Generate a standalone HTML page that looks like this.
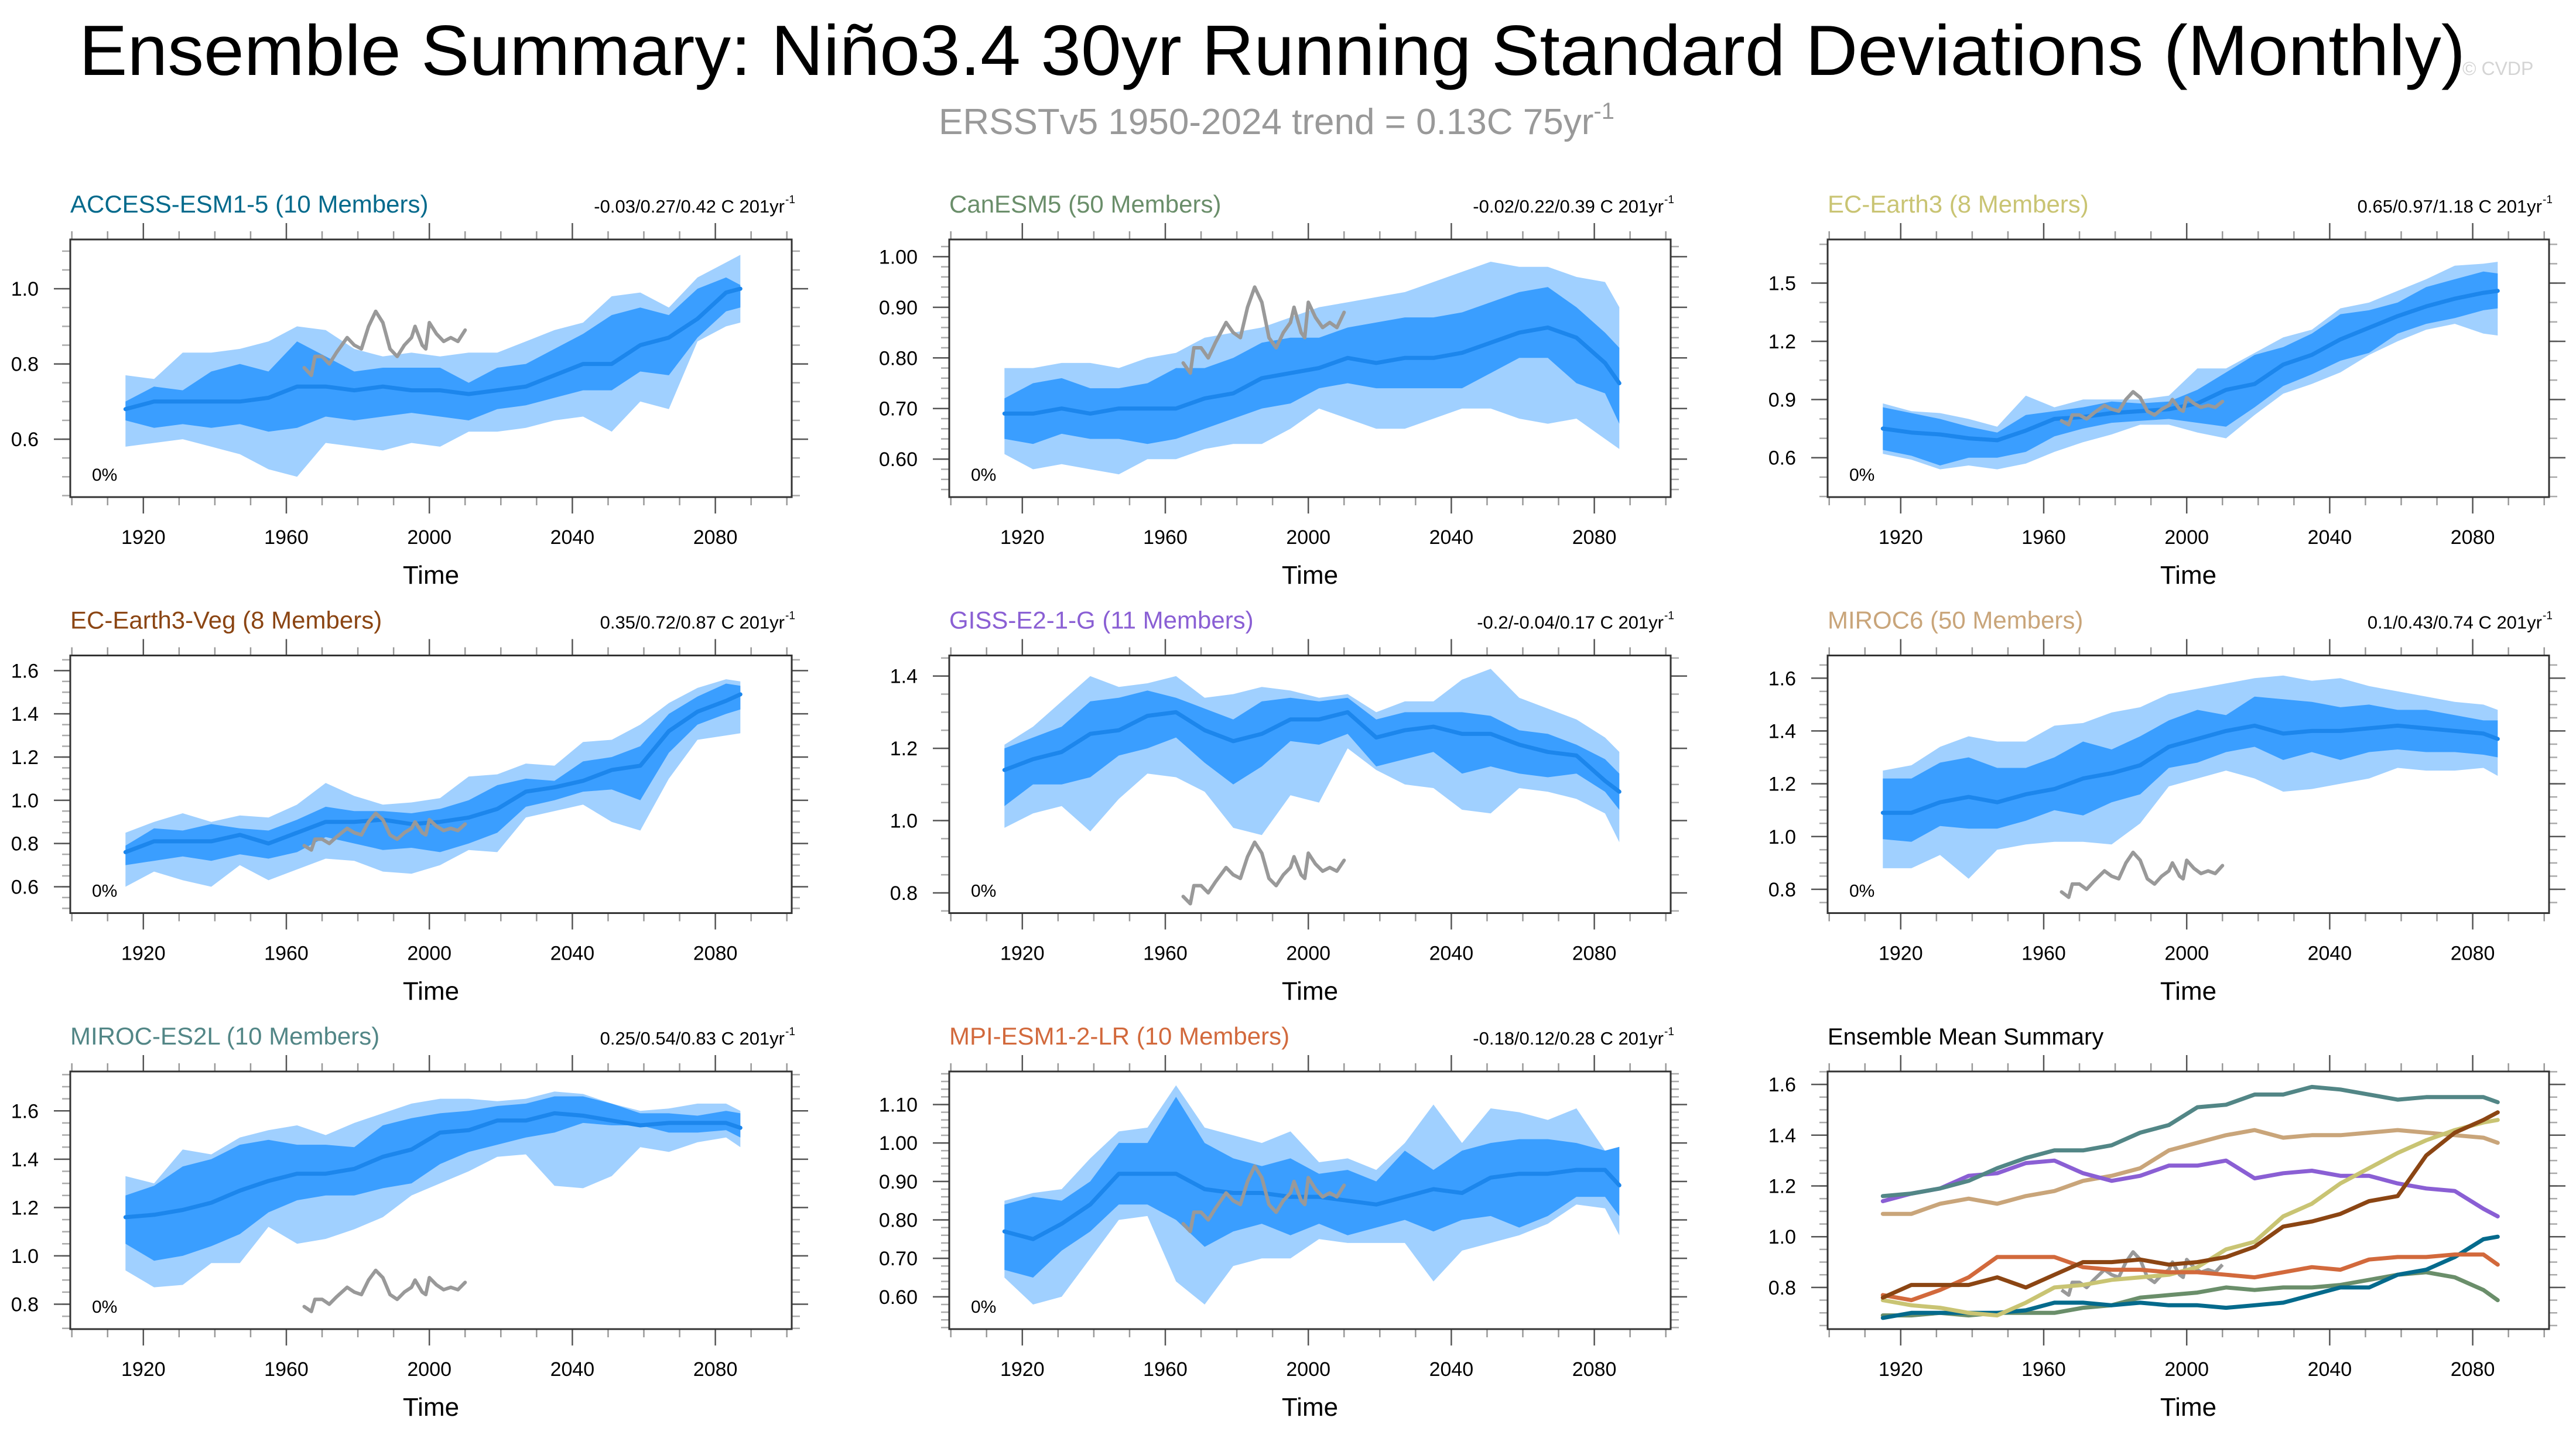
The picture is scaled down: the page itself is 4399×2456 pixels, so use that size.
<!DOCTYPE html>
<html><head><meta charset="utf-8"><title>Ensemble Summary</title>
<style>html,body{margin:0;padding:0;background:#fff;}svg{display:block;font-family:"Liberation Sans",Arial,sans-serif;}</style>
</head><body>
<svg id="chart" xmlns="http://www.w3.org/2000/svg" width="4399" height="2456" viewBox="0 0 4399 2456">
<rect x="0" y="0" width="4399" height="2456" fill="#fff"/>
<text x="135" y="128" font-size="122" textLength="4075" lengthAdjust="spacingAndGlyphs" fill="#000">Ensemble Summary: Niño3.4 30yr Running Standard Deviations (Monthly)</text>
<text x="1603" y="229" font-size="62" fill="#999">ERSSTv5 1950-2024 trend = 0.13C 75yr<tspan font-size="40" dy="-26">-1</tspan></text>
<text x="4205" y="128" font-size="32" fill="#d4d4d4">© CVDP</text>
<g id="panels"></g>
</svg>
<script>
const years = [1915,1923,1931,1939,1947,1955,1963,1971,1979,1987,1995,2003,2011,2019,2027,2035,2043,2051,2059,2067,2075,2083,2087];
const obsYears = [1965,1967,1968,1970,1972,1974,1977,1979,1981,1983,1985,1987,1989,1991,1993,1995,1996,1998,1999,2000,2002,2004,2006,2008,2010];
const obsVals = [0.79,0.77,0.82,0.82,0.80,0.83,0.87,0.85,0.84,0.90,0.94,0.91,0.84,0.82,0.85,0.87,0.90,0.85,0.84,0.91,0.88,0.86,0.87,0.86,0.89];
const xTickLabels = ["1920","1960","2000","2040","2080"];

const accessMean = [0.68,0.70,0.70,0.70,0.70,0.71,0.74,0.74,0.73,0.74,0.73,0.73,0.72,0.73,0.74,0.77,0.80,0.80,0.85,0.87,0.92,0.99,1.00];
const accessDHi = [0.70,0.74,0.73,0.78,0.80,0.78,0.86,0.82,0.78,0.79,0.79,0.79,0.75,0.79,0.80,0.84,0.88,0.93,0.95,0.93,1.00,1.03,1.01];
const accessDLo = [0.65,0.63,0.64,0.63,0.64,0.62,0.63,0.66,0.65,0.66,0.67,0.66,0.65,0.68,0.69,0.71,0.73,0.73,0.78,0.77,0.87,0.94,0.95];
const accessLHi = [0.77,0.76,0.83,0.83,0.84,0.86,0.90,0.89,0.84,0.82,0.83,0.82,0.83,0.83,0.86,0.89,0.91,0.98,0.99,0.95,1.03,1.07,1.09];
const accessLLo = [0.58,0.59,0.60,0.58,0.56,0.52,0.50,0.59,0.58,0.57,0.59,0.58,0.62,0.62,0.63,0.65,0.66,0.62,0.70,0.68,0.86,0.90,0.91];

const canMean = [0.69,0.69,0.70,0.69,0.70,0.70,0.70,0.72,0.73,0.76,0.77,0.78,0.80,0.79,0.80,0.80,0.81,0.83,0.85,0.86,0.84,0.79,0.75];
const canDHi = [0.72,0.75,0.76,0.74,0.74,0.75,0.78,0.78,0.80,0.83,0.84,0.84,0.86,0.87,0.88,0.88,0.89,0.91,0.93,0.94,0.90,0.85,0.82];
const canDLo = [0.64,0.63,0.65,0.64,0.64,0.63,0.64,0.66,0.68,0.70,0.71,0.74,0.75,0.74,0.74,0.74,0.74,0.77,0.80,0.80,0.75,0.73,0.67];
const canLHi = [0.78,0.78,0.79,0.79,0.78,0.80,0.81,0.84,0.85,0.86,0.88,0.90,0.91,0.92,0.93,0.95,0.97,0.99,0.98,0.98,0.96,0.95,0.90];
const canLLo = [0.61,0.58,0.59,0.58,0.57,0.60,0.60,0.62,0.63,0.63,0.66,0.70,0.68,0.66,0.66,0.68,0.70,0.70,0.68,0.67,0.68,0.64,0.62];

const ecMean = [0.75,0.73,0.72,0.70,0.69,0.74,0.80,0.81,0.83,0.84,0.85,0.88,0.95,0.98,1.08,1.13,1.21,1.27,1.33,1.38,1.42,1.45,1.46];
const ecDHi = [0.86,0.83,0.80,0.76,0.73,0.82,0.84,0.86,0.89,0.88,0.89,0.95,1.04,1.13,1.17,1.24,1.34,1.36,1.40,1.48,1.52,1.56,1.55];
const ecDLo = [0.64,0.61,0.56,0.60,0.60,0.63,0.71,0.75,0.78,0.79,0.80,0.78,0.76,0.86,0.97,1.03,1.10,1.14,1.24,1.29,1.32,1.36,1.37];
const ecLHi = [0.88,0.84,0.83,0.80,0.76,0.92,0.86,0.90,0.90,0.90,0.92,1.06,1.06,1.14,1.22,1.26,1.37,1.40,1.46,1.52,1.59,1.60,1.61];
const ecLLo = [0.62,0.59,0.54,0.56,0.54,0.57,0.63,0.68,0.72,0.77,0.77,0.73,0.70,0.82,0.93,0.98,1.04,1.13,1.20,1.26,1.29,1.24,1.23];

const vegMean = [0.76,0.81,0.81,0.81,0.84,0.80,0.85,0.90,0.90,0.91,0.89,0.90,0.92,0.96,1.04,1.06,1.09,1.14,1.16,1.32,1.41,1.46,1.49];
const vegDHi = [0.79,0.87,0.86,0.89,0.87,0.86,0.91,0.97,0.95,0.95,0.94,0.96,1.00,1.07,1.10,1.09,1.18,1.20,1.25,1.40,1.48,1.54,1.53];
const vegDLo = [0.70,0.72,0.74,0.72,0.75,0.73,0.76,0.83,0.80,0.77,0.78,0.76,0.80,0.85,0.97,1.00,1.04,1.05,1.00,1.22,1.35,1.40,1.42];
const vegLHi = [0.85,0.90,0.94,0.90,0.93,0.92,0.98,1.08,1.02,0.98,0.99,1.01,1.11,1.12,1.17,1.16,1.27,1.28,1.35,1.45,1.52,1.56,1.55];
const vegLLo = [0.60,0.67,0.63,0.60,0.70,0.63,0.68,0.73,0.72,0.67,0.66,0.70,0.77,0.76,0.92,0.95,0.98,0.90,0.86,1.10,1.28,1.30,1.31];

const gissMean = [1.14,1.17,1.19,1.24,1.25,1.29,1.30,1.25,1.22,1.24,1.28,1.28,1.30,1.23,1.25,1.26,1.24,1.24,1.21,1.19,1.18,1.11,1.08];
const gissDHi = [1.20,1.23,1.26,1.33,1.34,1.36,1.34,1.31,1.28,1.33,1.34,1.33,1.34,1.28,1.30,1.30,1.30,1.29,1.25,1.24,1.21,1.17,1.13];
const gissDLo = [1.04,1.10,1.10,1.12,1.18,1.20,1.23,1.16,1.10,1.15,1.22,1.21,1.24,1.15,1.17,1.19,1.13,1.15,1.13,1.12,1.13,1.08,1.03];
const gissLHi = [1.21,1.26,1.33,1.40,1.37,1.38,1.40,1.34,1.35,1.37,1.36,1.34,1.35,1.30,1.33,1.33,1.39,1.42,1.34,1.31,1.28,1.23,1.19];
const gissLLo = [0.98,1.02,1.04,0.97,1.06,1.13,1.12,1.08,0.98,0.96,1.07,1.05,1.20,1.14,1.10,1.09,1.03,1.02,1.09,1.08,1.06,1.02,0.94];

const miroc6Mean = [1.09,1.09,1.13,1.15,1.13,1.16,1.18,1.22,1.24,1.27,1.34,1.37,1.40,1.42,1.39,1.40,1.40,1.41,1.42,1.41,1.40,1.39,1.37];
const miroc6DHi = [1.22,1.22,1.28,1.30,1.26,1.26,1.30,1.36,1.33,1.38,1.44,1.48,1.46,1.53,1.52,1.51,1.49,1.50,1.48,1.48,1.46,1.44,1.44];
const miroc6DLo = [0.99,0.98,1.04,1.03,1.03,1.06,1.10,1.08,1.13,1.16,1.26,1.28,1.32,1.34,1.29,1.32,1.29,1.32,1.33,1.32,1.32,1.31,1.30];
const miroc6LHi = [1.25,1.27,1.34,1.38,1.36,1.36,1.42,1.43,1.47,1.49,1.54,1.56,1.58,1.60,1.61,1.59,1.60,1.57,1.55,1.53,1.51,1.50,1.48];
const miroc6LLo = [0.88,0.88,0.93,0.84,0.95,0.97,0.98,0.98,0.97,1.05,1.19,1.22,1.25,1.22,1.17,1.18,1.20,1.22,1.26,1.25,1.25,1.26,1.23];

const es2lMean = [1.16,1.17,1.19,1.22,1.27,1.31,1.34,1.34,1.36,1.41,1.44,1.51,1.52,1.56,1.56,1.59,1.58,1.56,1.54,1.55,1.55,1.55,1.53];
const es2lDHi = [1.25,1.29,1.37,1.40,1.46,1.48,1.46,1.46,1.45,1.54,1.57,1.59,1.60,1.62,1.63,1.66,1.66,1.63,1.59,1.59,1.58,1.60,1.59];
const es2lDLo = [1.05,0.98,1.00,1.04,1.09,1.18,1.23,1.25,1.25,1.28,1.30,1.38,1.43,1.46,1.49,1.51,1.55,1.54,1.54,1.51,1.51,1.52,1.49];
const es2lLHi = [1.33,1.30,1.44,1.42,1.49,1.52,1.54,1.50,1.55,1.59,1.63,1.65,1.65,1.64,1.65,1.68,1.67,1.63,1.60,1.61,1.63,1.63,1.60];
const es2lLLo = [0.94,0.87,0.88,0.97,0.97,1.12,1.05,1.07,1.11,1.16,1.25,1.30,1.35,1.41,1.42,1.29,1.28,1.33,1.45,1.43,1.47,1.49,1.45];

const mpiMean = [0.77,0.75,0.79,0.84,0.92,0.92,0.92,0.88,0.87,0.87,0.86,0.86,0.85,0.84,0.86,0.88,0.87,0.91,0.92,0.92,0.93,0.93,0.89];
const mpiDHi = [0.84,0.86,0.85,0.90,1.00,1.00,1.12,1.00,0.96,0.94,0.96,0.92,0.93,0.90,0.98,0.93,0.98,1.00,1.01,1.01,1.00,0.98,0.99];
const mpiDLo = [0.67,0.65,0.72,0.77,0.84,0.84,0.80,0.73,0.77,0.79,0.76,0.79,0.76,0.78,0.80,0.77,0.80,0.81,0.78,0.81,0.86,0.86,0.81];
const mpiLHi = [0.85,0.87,0.88,0.96,1.03,1.04,1.15,1.04,1.02,1.00,1.03,0.95,0.96,0.93,1.00,1.10,1.00,1.09,1.08,1.06,1.09,0.98,0.99];
const mpiLLo = [0.65,0.58,0.60,0.70,0.80,0.81,0.64,0.58,0.68,0.70,0.70,0.75,0.74,0.74,0.74,0.64,0.72,0.74,0.76,0.79,0.84,0.83,0.76];

const NS = "http://www.w3.org/2000/svg";
const colX = [120, 1621, 3121];
const rowY = [409, 1119.5, 1830];
const W = 1232, H = 440;
const root = document.getElementById('panels');

function mk(tag, parent, attrs) {
  const e = document.createElementNS(NS, tag);
  for (const k in attrs) e.setAttribute(k, attrs[k]);
  parent.appendChild(e);
  return e;
}

const models = [
  {key:'access', title:'ACCESS-ESM1-5 (10 Members)', color:'#046a8c', stat:'-0.03/0.27/0.42 C 201yr', ymin:0.446, ymax:1.131, major:[0.6,0.8,1.0], minor:0.05, dec:1, mean:accessMean, dhi:accessDHi, dlo:accessDLo, lhi:accessLHi, llo:accessLLo},
  {key:'canesm5', title:'CanESM5 (50 Members)', color:'#6a8e6a', stat:'-0.02/0.22/0.39 C 201yr', ymin:0.525, ymax:1.034, major:[0.6,0.7,0.8,0.9,1.0], minor:0.02, dec:2, mean:canMean, dhi:canDHi, dlo:canDLo, lhi:canLHi, llo:canLLo},
  {key:'ec-earth3', title:'EC-Earth3 (8 Members)', color:'#c9c473', stat:'0.65/0.97/1.18 C 201yr', ymin:0.397, ymax:1.725, major:[0.6,0.9,1.2,1.5], minor:0.1, dec:1, mean:ecMean, dhi:ecDHi, dlo:ecDLo, lhi:ecLHi, llo:ecLLo},
  {key:'ec-earth3-veg', title:'EC-Earth3-Veg (8 Members)', color:'#8b4513', stat:'0.35/0.72/0.87 C 201yr', ymin:0.478, ymax:1.670, major:[0.6,0.8,1.0,1.2,1.4,1.6], minor:0.05, dec:1, mean:vegMean, dhi:vegDHi, dlo:vegDLo, lhi:vegLHi, llo:vegLLo},
  {key:'giss', title:'GISS-E2-1-G (11 Members)', color:'#8a5fd4', stat:'-0.2/-0.04/0.17 C 201yr', ymin:0.744, ymax:1.457, major:[0.8,1.0,1.2,1.4], minor:0.05, dec:1, mean:gissMean, dhi:gissDHi, dlo:gissDLo, lhi:gissLHi, llo:gissLLo},
  {key:'miroc6', title:'MIROC6 (50 Members)', color:'#c9a57a', stat:'0.1/0.43/0.74 C 201yr', ymin:0.710, ymax:1.686, major:[0.8,1.0,1.2,1.4,1.6], minor:0.05, dec:1, mean:miroc6Mean, dhi:miroc6DHi, dlo:miroc6DLo, lhi:miroc6LHi, llo:miroc6LLo},
  {key:'miroc-es2l', title:'MIROC-ES2L (10 Members)', color:'#528686', stat:'0.25/0.54/0.83 C 201yr', ymin:0.697, ymax:1.763, major:[0.8,1.0,1.2,1.4,1.6], minor:0.05, dec:1, mean:es2lMean, dhi:es2lDHi, dlo:es2lDLo, lhi:es2lLHi, llo:es2lLLo},
  {key:'mpi', title:'MPI-ESM1-2-LR (10 Members)', color:'#d2693c', stat:'-0.18/0.12/0.28 C 201yr', ymin:0.516, ymax:1.186, major:[0.6,0.7,0.8,0.9,1.0,1.1], minor:0.02, dec:2, mean:mpiMean, dhi:mpiDHi, dlo:mpiDLo, lhi:mpiLHi, llo:mpiLLo}
];

function drawAxes(g, x0, y0, ymin, ymax, major, minorStep, dec) {
  const xs = yr => x0 + 2.7 + (yr - 1900) * 6.105;
  const ys = v => y0 + (ymax - v) / (ymax - ymin) * H;
  for (let yr = 1900; yr <= 2100; yr += 10) {
    const isMaj = (yr - 1920) % 40 === 0 && yr >= 1920 && yr <= 2080;
    const len = isMaj ? 28 : 14;
    const col = isMaj ? '#555' : '#999';
    const x = xs(yr);
    const t1 = mk('line', g, {x1:x, x2:x, y1:y0 - len, y2:y0, stroke:col, 'stroke-width':2.5});
    
    
    const t2 = mk('line', g, {x1:x, x2:x, y1:y0 + H, y2:y0 + H + len, stroke:col, 'stroke-width':2.5});
    
    
  }
  xTickLabels.forEach(lab => {
    const t = mk('text', g, {x:xs(+lab), y:y0 + H + 80, 'font-size':34, 'text-anchor':'middle', fill:'#000'});
    
    
    t.textContent = lab;
  });
  const start = Math.ceil(ymin / minorStep - 1e-6);
  for (let i = start; i * minorStep <= ymax + 1e-9; i++) {
    const v = i * minorStep;
    const y = ys(v);
    const a = mk('line', g, {x1:x0 - 14, x2:x0, y1:y, y2:y, stroke:'#aaa', 'stroke-width':2.5});
    
    
    const b = mk('line', g, {x1:x0 + W, x2:x0 + W + 14, y1:y, y2:y, stroke:'#aaa', 'stroke-width':2.5});
    
    
  }
  major.forEach(v => {
    const y = ys(v);
    const a = mk('line', g, {x1:x0 - 28, x2:x0, y1:y, y2:y, stroke:'#555', 'stroke-width':2.5});
    
    
    const b = mk('line', g, {x1:x0 + W, x2:x0 + W + 28, y1:y, y2:y, stroke:'#555', 'stroke-width':2.5});
    
    
    const t = mk('text', g, {x:x0 - 54, y:y + 12, 'font-size':34, 'text-anchor':'end', fill:'#000'});
    
    
    t.textContent = v.toFixed(dec);
  });
  const tl = mk('text', g, {x:x0 + W / 2, y:y0 + H + 148, 'font-size':44, 'text-anchor':'middle', fill:'#000'});
  
  
  tl.textContent = 'Time';
  return {xs, ys};
}

function linePath(xs, ys, xv, yv) {
  return xv.map((x, i) => (i ? 'L' : 'M') + xs(x).toFixed(1) + ' ' + ys(yv[i]).toFixed(1)).join(' ');
}
function bandPath(xs, ys, hi, lo) {
  let d = years.map((yr, i) => (i ? 'L' : 'M') + xs(yr).toFixed(1) + ' ' + ys(hi[i]).toFixed(1)).join(' ');
  for (let i = years.length - 1; i >= 0; i--) d += ' L' + xs(years[i]).toFixed(1) + ' ' + ys(lo[i]).toFixed(1);
  return d + ' Z';
}

models.forEach((m, idx) => {
  const col = idx % 3, row = Math.floor(idx / 3);
  const x0 = colX[col], y0 = rowY[row];
  const g = mk('g', root, {});
  
  
  const ax = drawAxes(g, x0, y0, m.ymin, m.ymax, m.major, m.minor, m.dec);
  const lb = mk('path', g, {d:bandPath(ax.xs, ax.ys, m.lhi, m.llo), fill:'#a0d0ff'});
  
  
  const db = mk('path', g, {d:bandPath(ax.xs, ax.ys, m.dhi, m.dlo), fill:'#3a9eff'});
  
  
  const ml = mk('path', g, {d:linePath(ax.xs, ax.ys, years, m.mean), fill:'none', stroke:'#1c86ec', 'stroke-width':7, 'stroke-linejoin':'round', 'stroke-linecap':'round'});
  
  
  const ol = mk('path', g, {d:linePath(ax.xs, ax.ys, obsYears, obsVals), fill:'none', stroke:'#999', 'stroke-width':6, 'stroke-linejoin':'round', 'stroke-linecap':'round'});
  
  
  const box = mk('rect', g, {x:x0, y:y0, width:W, height:H, fill:'none', stroke:'#333', 'stroke-width':3});
  
  
  const tt = mk('text', g, {x:x0, y:y0 - 46, 'font-size':42, fill:m.color});
  
  
  tt.textContent = m.title;
  const st = mk('text', g, {x:x0 + W - 12, y:y0 - 46, 'font-size':31, 'text-anchor':'end', fill:'#000'});
  
  
  st.textContent = m.stat;
  const sup = mk('text', g, {x:x0 + W - 11, y:y0 - 62, 'font-size':19, fill:'#000'});
  
  
  sup.textContent = '-1';
  const pc = mk('text', g, {x:x0 + 37, y:y0 + H - 28, 'font-size':30, fill:'#000'});
  
  
  pc.textContent = '0%';
});

(function () {
  const x0 = colX[2], y0 = rowY[2];
  const g = mk('g', root, {});
  
  
  const ax = drawAxes(g, x0, y0, 0.636, 1.651, [0.8,1.0,1.2,1.4,1.6], 0.05, 1);
  const ol = mk('path', g, {d:linePath(ax.xs, ax.ys, obsYears, obsVals), fill:'none', stroke:'#999', 'stroke-width':6, 'stroke-linejoin':'round'});
  
  
  const order = [1, 0, 5, 4, 6, 2, 7, 3];
  order.forEach(i => {
    const m = models[i];
    const p = mk('path', g, {d:linePath(ax.xs, ax.ys, years, m.mean), fill:'none', stroke:m.color, 'stroke-width':7, 'stroke-linejoin':'round', 'stroke-linecap':'round'});
    
    
  });
  const box = mk('rect', g, {x:x0, y:y0, width:W, height:H, fill:'none', stroke:'#333', 'stroke-width':3});
  
  
  const tt = mk('text', g, {x:x0, y:y0 - 46, 'font-size':40, fill:'#000'});
  
  
  tt.textContent = 'Ensemble Mean Summary';
})();
</script>
</body></html>
